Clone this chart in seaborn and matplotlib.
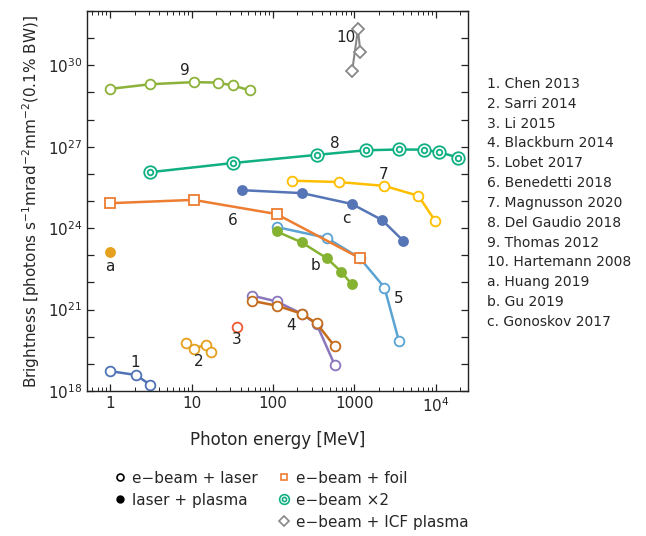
import numpy as np
import pandas as pd
import seaborn as sns
import matplotlib.pyplot as plt
from matplotlib.lines import Line2D
from matplotlib.ticker import LogLocator, FixedLocator, FuncFormatter, NullFormatter

# photon energy [MeV] / brightness
chen_e = [1, 2.07, 3.1]
chen_b = [5.4e18, 3.9e18, 1.7e18]
sarri_e = [8.5, 10.6, 15, 17.2]
sarri_b = [5.9e19, 3.6e19, 5.1e19, 2.8e19]
li_e = [36]
li_b = [2.3e20]
blackburn1_e = [55, 111, 225, 345, 575]
blackburn1_b = [3.3e21, 2.0e21, 7.1e20, 2.9e20, 9.1e18]
blackburn2_e = [55, 111, 225, 345, 575]
blackburn2_b = [2.1e21, 1.4e21, 7.1e20, 3.1e20, 4.4e19]
lobet_e = [111, 457, 1170, 2350, 3540]
lobet_b = [1.1e24, 4.4e23, 7.9e22, 6.5e21, 6.9e19]
benedetti_e = [1, 10.6, 111, 1170]
benedetti_b = [8.3e24, 1.1e25, 3.3e24, 7.9e22]
magnusson_e = [170, 645, 2350, 6150, 9800]
magnusson_b = [5.6e25, 5.0e25, 3.6e25, 1.55e25, 1.9e24]
delgaudio_e = [3.1, 32, 345, 1390, 3570, 7200, 11100, 18800]
delgaudio_b = [1.15e26, 2.5e26, 5.0e26, 7.4e26, 7.9e26, 7.8e26, 6.3e26, 4.0e26]
thomas_e = [1, 3.1, 10.6, 21, 32, 52]
thomas_b = [1.35e29, 2.0e29, 2.4e29, 2.3e29, 1.8e29, 1.2e29]
hartemann_e = [940, 1110, 1190]
hartemann_b = [5.9e29, 2.1e31, 3.0e30]
huang_e = [1]
huang_b = [1.3e23]
gu_e = [111, 225, 460, 690, 925]
gu_b = [7.6e23, 3.0e23, 7.8e22, 2.5e22, 8.7e21]
gonoskov_e = [42, 229, 930, 2190, 3970]
gonoskov_b = [2.5e25, 1.95e25, 7.8e24, 2.0e24, 3.5e23]

references = ['1. Chen 2013', '2. Sarri 2014', '3. Li 2015', '4. Blackburn 2014',
              '5. Lobet 2017', '6. Benedetti 2018', '7. Magnusson 2020',
              '8. Del Gaudio 2018', '9. Thomas 2012', '10. Hartemann 2008',
              'a. Huang 2019', 'b. Gu 2019', 'c. Gonoskov 2017']

# (label, x, y) for the number/letter tags next to the curves
tags = [('1', 2.0, 1.1e19), ('2', 12.4, 1.2e19), ('3', 36, 7.6e19), ('4', 166, 2.5e20),
        ('5', 3530, 2.5e21), ('6', 32, 1.9e24), ('7', 2300, 9.5e25), ('8', 575, 1.3e27),
        ('9', 8.3, 6.6e29), ('10', 790, 1.1e31), ('a', 1, 3.8e22), ('b', 337, 4.2e22),
        ('c', 810, 2.2e24)]

# name, energies, brightness, colour, style
series = [
    ('chen', chen_e, chen_b, '#4f73b6', 'open'),
    ('sarri', sarri_e, sarri_b, '#e5a01e', 'open'),
    ('li', li_e, li_b, '#ef5a35', 'open'),
    ('blackburn1', blackburn1_e, blackburn1_b, '#8a76bd', 'open'),
    ('blackburn2', blackburn2_e, blackburn2_b, '#c46c1c', 'open'),
    ('lobet', lobet_e, lobet_b, '#5aa3d3', 'open'),
    ('benedetti', benedetti_e, benedetti_b, '#ed7d31', 'square'),
    ('magnusson', magnusson_e, magnusson_b, '#ffbf00', 'open'),
    ('delgaudio', delgaudio_e, delgaudio_b, '#10b083', 'double'),
    ('thomas', thomas_e, thomas_b, '#8cb23a', 'open'),
    ('hartemann', hartemann_e, hartemann_b, '#888888', 'diamond'),
    ('huang', huang_e, huang_b, '#e5a01e', 'filled'),
    ('gu', gu_e, gu_b, '#86b232', 'filled'),
    ('gonoskov', gonoskov_e, gonoskov_b, '#5675b6', 'filled'),
]

sns.set_theme(style='ticks')
plt.rcParams['font.family'] = ['DejaVu Sans']
plt.rcParams['xtick.direction'] = 'in'
plt.rcParams['ytick.direction'] = 'in'

fig = plt.figure(figsize=(6.46, 5.36), dpi=100)
ax = fig.add_axes([0.1347, 0.2705, 0.5898, 0.709])

for name, e, b, color, style in series:
    df = pd.DataFrame({'energy': e, 'brightness': b})
    kw = dict(color=color, linewidth=1.8, markeredgecolor=color, markeredgewidth=1.3)
    if style == 'open':
        kw.update(marker='o', markersize=7, markerfacecolor='white')
    elif style == 'filled':
        kw.update(marker='o', markersize=6.5, markerfacecolor=color)
    elif style == 'square':
        kw.update(marker='s', markersize=7, markerfacecolor='white')
    elif style == 'diamond':
        kw.update(marker='D', markersize=6, markerfacecolor='white', linewidth=1.5)
    elif style == 'double':
        kw.update(marker='o', markersize=9, markerfacecolor='white')
    sns.lineplot(data=df, x='energy', y='brightness', ax=ax, errorbar=None, **kw)
    if style == 'double':
        ax.plot(e, b, linestyle='none', marker='o', markersize=4, markerfacecolor='none',
                markeredgecolor=color, markeredgewidth=1.3)

for label, x, y in tags:
    ax.text(x, y, label, ha='center', va='center', fontsize=11, color='#222222')

ax.set_xscale('log')
ax.set_yscale('log')
ax.set_xlim(0.52, 2.5e4)
ax.set_ylim(1e18, 1e32)

ax.xaxis.set_major_locator(LogLocator(base=10, numticks=20))
ax.xaxis.set_minor_locator(LogLocator(base=10, subs=np.arange(2, 10), numticks=20))
xlab = {1: '1', 10: '10', 100: '100', 1000: '1000', 10000: '$10^4$'}
ax.xaxis.set_major_formatter(FuncFormatter(lambda v, p: xlab.get(int(round(v)), '')))
ax.xaxis.set_minor_formatter(NullFormatter())

ax.yaxis.set_major_locator(FixedLocator([10.0 ** k for k in range(18, 33)]))
ax.yaxis.set_minor_locator(FixedLocator([]))
ax.yaxis.set_major_formatter(FuncFormatter(
    lambda v, p: '$10^{%d}$' % round(np.log10(v)) if round(np.log10(v)) % 3 == 0 and round(np.log10(v)) <= 30 else ''))

ax.tick_params(which='both', top=True, right=True, direction='in', labelsize=11, color='#222222')
ax.tick_params(which='major', length=5, width=0.9)
ax.tick_params(which='minor', length=3, width=0.7)
for s in ax.spines.values():
    s.set_linewidth(1.0)
    s.set_color('#222222')

ax.set_xlabel('Photon energy [MeV]', fontsize=12, labelpad=12)
ax.set_ylabel('Brightness [photons s$^{-1}$mrad$^{-2}$mm$^{-2}$(0.1% BW)]', fontsize=11, labelpad=4)

for i, ref in enumerate(references):
    fig.text(0.754, 1 - (84 + i * 19.83) / 536, ref, ha='left', va='center', fontsize=10)

handles = [
    Line2D([], [], linestyle='none', marker='o', markersize=5, markerfacecolor='white',
           markeredgecolor='black', markeredgewidth=1.2),
    Line2D([], [], linestyle='none', marker='o', markersize=5, markerfacecolor='black',
           markeredgecolor='black'),
    Line2D([], [], linestyle='none', marker=None),
    Line2D([], [], linestyle='none', marker='s', markersize=5, markerfacecolor='white',
           markeredgecolor='#ed7d31', markeredgewidth=1.2),
    (Line2D([], [], linestyle='none', marker='o', markersize=7, markerfacecolor='white',
            markeredgecolor='#10b083', markeredgewidth=1.2),
     Line2D([], [], linestyle='none', marker='o', markersize=3, markerfacecolor='none',
            markeredgecolor='#10b083', markeredgewidth=1.2)),
    Line2D([], [], linestyle='none', marker='D', markersize=5, markerfacecolor='white',
           markeredgecolor='#888888', markeredgewidth=1.2),
]
labels = ['e\u2212beam + laser', 'laser + plasma', '', 'e\u2212beam + foil',
          'e\u2212beam \u00d72', 'e\u2212beam + ICF plasma']
ax.legend(handles, labels, loc='upper left', bbox_to_anchor=(0.155, 1 - 457 / 536),
          bbox_transform=fig.transFigure, ncol=2, frameon=False, fontsize=11,
          handlelength=0.8, handletextpad=0.4, columnspacing=1.3, labelspacing=0.45)

fig.savefig('out.png', dpi=100)
